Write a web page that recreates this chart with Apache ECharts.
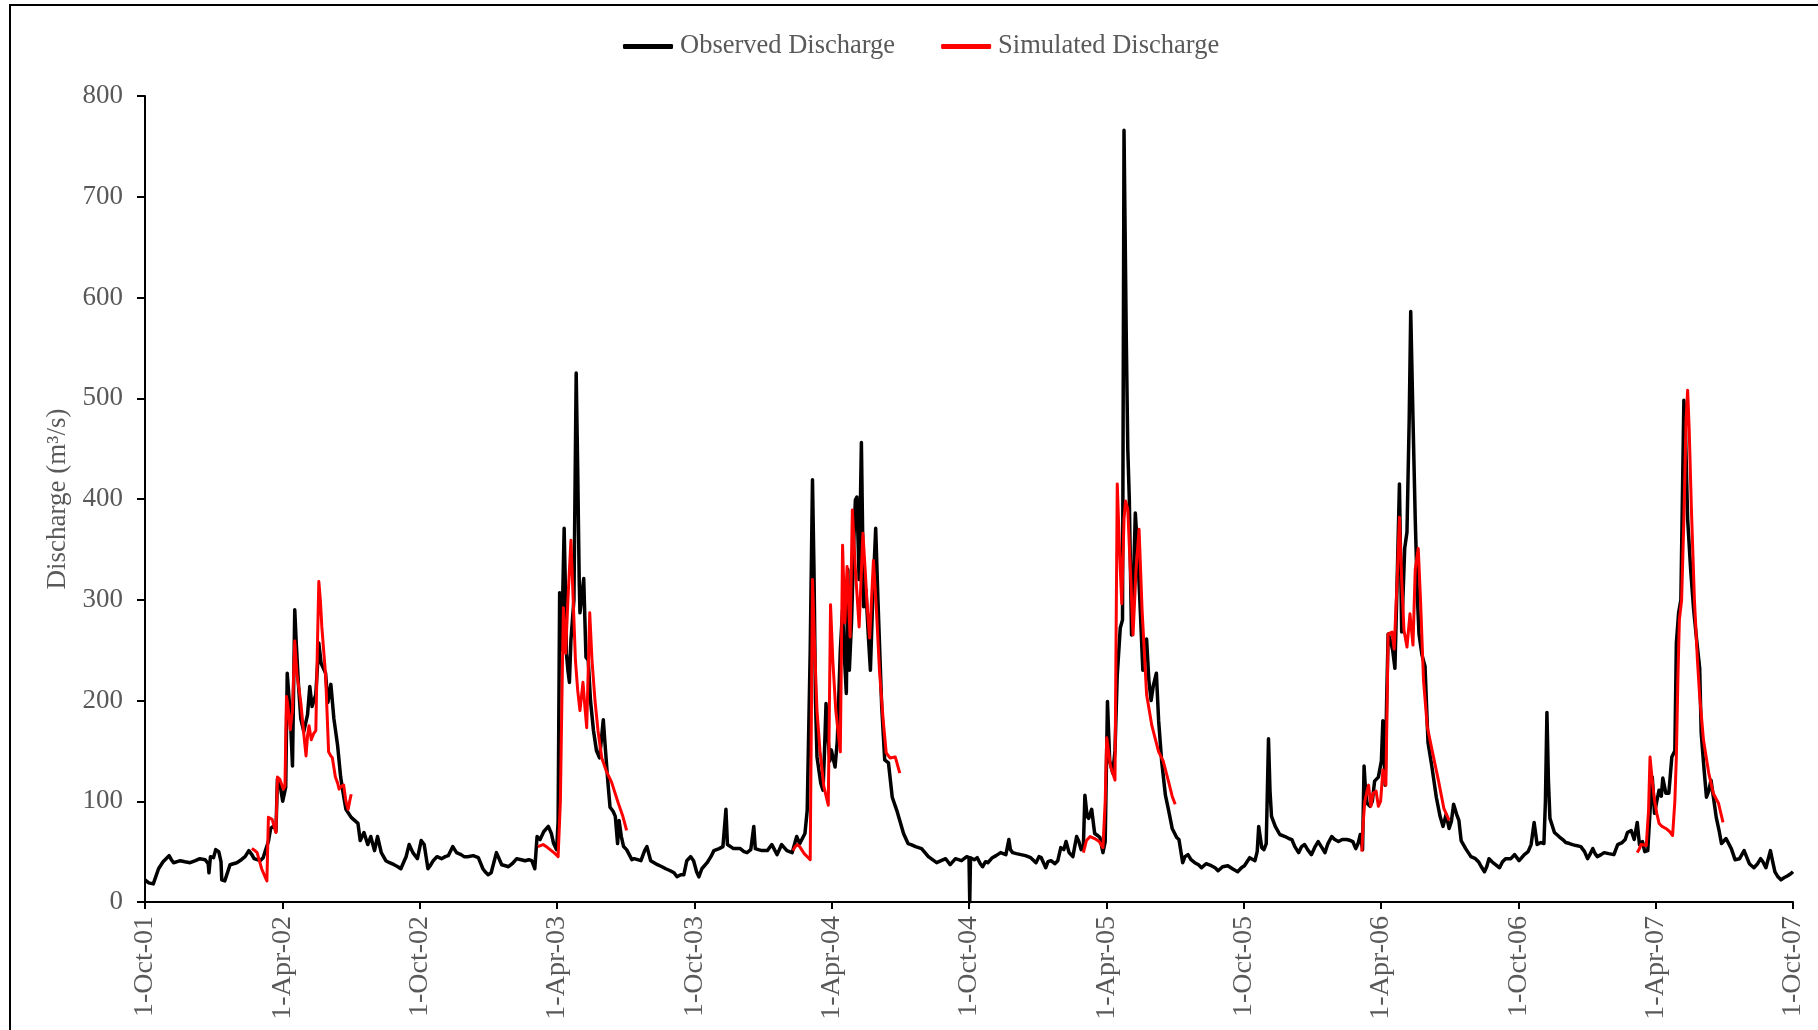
<!DOCTYPE html>
<html>
<head>
<meta charset="utf-8">
<script src="https://cdn.jsdelivr.net/npm/echarts@6/dist/echarts.min.js"></script>
<style>
  html, body { margin: 0; padding: 0; background: #ffffff; }
  #chart { width: 1818px; height: 1030px; }
</style>
</head>
<body>
<div id="chart"></div>
<script>
// Daily discharge, x = days since 1 Oct 2001, y = m³/s
const tickLabels = ['1-Oct-01', '1-Apr-02', '1-Oct-02', '1-Apr-03', '1-Oct-03', '1-Apr-04', '1-Oct-04',
  '1-Apr-05', '1-Oct-05', '1-Apr-06', '1-Oct-06', '1-Apr-07', '1-Oct-07'];
const halfYear = 182.5;

const observed = [
  [0,22],[5,19],[11,18],[18,33],[24,40],[32,46],[35,42],[38,39],[47,41],[53,40],[60,39],[67,41],[73,43],[80,42],
  [84,38],[85,29],[87,45],[91,44],[94,52],[98,50],[101,40],[102,22],[106,21],[110,30],[113,37],[122,39],[128,42],
  [133,45],[138,51],[142,47],[145,43],[153,41],[157,44],[160,51],[164,60],[167,73],[172,76],[174,70],[176,122],
  [180,114],[183,100],[187,114],[189,227],[193,186],[196,135],[199,290],[201,257],[204,215],[207,182],[211,169],
  [216,186],[219,214],[222,194],[227,206],[231,257],[234,237],[240,227],[243,198],[247,216],[251,182],[256,155],
  [260,124],[264,105],[267,92],[274,84],[280,80],[283,78],[286,61],[291,69],[296,57],[300,65],[305,51],[309,65],
  [314,49],[320,41],[325,39],[331,37],[336,35],[340,33],[344,40],[347,45],[351,57],[356,49],[362,43],[367,61],
  [371,57],[376,33],[379,36],[383,41],[388,45],[394,43],[399,45],[403,46],[409,55],[414,49],[420,47],[424,45],
  [429,45],[436,46],[443,44],[449,33],[452,30],[456,27],[460,29],[467,49],[470,44],[474,37],[479,36],[483,35],
  [488,38],[494,43],[500,42],[505,41],[510,42],[514,41],[518,33],[521,65],[525,62],[530,70],[536,75],[540,68],
  [543,58],[547,52],[549,80],[551,307],[553,250],[555,300],[557,371],[559,300],[560,247],[562,230],[564,218],
  [566,260],[568,280],[570,300],[573,525],[575,430],[577,320],[578,287],[580,300],[583,321],[586,243],[589,240],
  [592,200],[596,170],[600,150],[604,143],[607,165],[609,181],[612,150],[615,120],[618,94],[622,90],[625,85],
  [628,58],[630,81],[633,65],[636,55],[640,52],[647,42],[650,43],[659,41],[664,51],[667,55],[672,41],[681,37],
  [687,35],[692,33],[698,31],[703,29],[707,25],[712,27],[716,27],[720,41],[725,45],[729,41],[733,30],[736,25],
  [740,33],[747,39],[752,45],[756,51],[763,53],[768,55],[772,92],[774,57],[782,53],[791,53],[796,50],[800,49],
  [805,52],[807,51],[809,75],[811,53],[815,52],[820,51],[827,51],[833,57],[840,47],[846,57],[853,51],[860,49],
  [866,65],[870,58],[877,68],[880,91],[884,250],[887,419],[889,330],[891,200],[893,144],[898,118],[901,111],
  [903,150],[905,197],[907,170],[910,140],[912,151],[917,134],[920,160],[924,250],[927,290],[929,250],[932,207],
  [934,330],[936,230],[939,280],[942,360],[944,399],[946,402],[949,320],[952,456],[955,293],[958,310],[961,267],
  [964,230],[967,300],[971,371],[974,300],[979,194],[983,141],[988,138],[993,104],[999,91],[1003,81],[1008,68],
  [1014,58],[1018,57],[1024,55],[1032,53],[1041,45],[1052,39],[1058,41],[1064,43],[1070,37],[1077,43],[1085,41],
  [1092,45],[1095,44],[1096,0],[1097,44],[1102,42],[1106,44],[1110,38],[1113,35],[1117,40],[1120,39],[1126,44],
  [1131,46],[1137,49],[1144,47],[1148,62],[1150,52],[1153,49],[1158,48],[1164,47],[1170,46],[1177,44],[1184,39],
  [1188,45],[1191,44],[1197,34],[1200,40],[1204,41],[1209,38],[1213,41],[1217,54],[1221,52],[1224,60],[1228,49],
  [1233,45],[1238,65],[1241,60],[1244,52],[1247,55],[1249,106],[1252,85],[1254,83],[1258,92],[1262,68],[1266,66],
  [1269,64],[1273,49],[1276,60],[1279,199],[1282,140],[1286,128],[1289,150],[1292,225],[1296,272],[1299,280],
  [1301,766],[1304,560],[1306,450],[1308,401],[1311,265],[1314,330],[1316,386],[1319,350],[1322,300],[1326,230],
  [1329,250],[1331,261],[1334,220],[1337,200],[1340,215],[1344,227],[1347,180],[1351,140],[1356,106],[1360,92],
  [1365,73],[1371,64],[1374,62],[1379,39],[1382,45],[1386,47],[1390,42],[1395,39],[1400,37],[1404,34],[1410,38],
  [1417,36],[1422,34],[1426,31],[1432,35],[1439,36],[1445,33],[1452,30],[1457,34],[1461,36],[1468,44],[1475,41],
  [1478,50],[1480,75],[1484,54],[1487,52],[1490,58],[1493,162],[1495,110],[1497,85],[1502,75],[1508,67],[1515,65],
  [1520,63],[1524,62],[1528,55],[1533,49],[1537,55],[1541,57],[1545,52],[1550,47],[1555,55],[1559,60],[1564,54],
  [1568,49],[1572,58],[1577,65],[1581,62],[1586,60],[1591,62],[1597,62],[1602,61],[1605,60],[1609,53],[1612,58],
  [1615,67],[1618,52],[1620,135],[1622,110],[1624,98],[1628,95],[1631,100],[1634,120],[1639,124],[1643,140],
  [1645,180],[1648,116],[1650,200],[1652,266],[1655,260],[1658,250],[1661,232],[1664,320],[1667,415],[1670,268],
  [1674,351],[1677,367],[1680,480],[1682,586],[1685,480],[1688,380],[1691,300],[1693,266],[1697,245],[1701,234],
  [1705,158],[1710,135],[1716,104],[1721,85],[1725,75],[1729,87],[1733,73],[1736,80],[1739,97],[1743,87],
  [1746,81],[1749,61],[1755,53],[1762,45],[1768,43],[1772,40],[1775,36],[1780,30],[1783,35],[1786,43],[1790,40],
  [1793,38],[1800,34],[1804,40],[1808,43],[1815,43],[1820,47],[1823,44],[1826,41],[1833,47],[1838,50],[1842,57],
  [1846,79],[1850,57],[1855,59],[1859,58],[1861,100],[1863,188],[1865,120],[1867,83],[1873,69],[1879,65],[1884,62],
  [1888,59],[1893,58],[1897,57],[1902,56],[1908,55],[1913,50],[1917,43],[1920,47],[1924,53],[1927,48],[1930,45],
  [1935,47],[1939,49],[1945,48],[1952,47],[1957,57],[1963,59],[1967,62],[1970,69],[1975,71],[1979,62],[1983,79],
  [1986,57],[1990,60],[1993,50],[1997,51],[2000,90],[2003,124],[2006,88],[2009,100],[2012,111],[2015,105],
  [2017,123],[2021,108],[2025,108],[2029,144],[2033,150],[2035,257],[2038,287],[2041,300],[2043,400],[2045,498],
  [2047,470],[2050,380],[2054,330],[2058,290],[2062,260],[2066,232],[2068,168],[2072,130],[2075,104],[2078,110],
  [2081,121],[2085,100],[2088,84],[2092,70],[2095,58],[2101,63],[2108,53],[2113,42],[2119,43],[2125,51],[2132,38],
  [2138,34],[2143,38],[2147,43],[2150,40],[2154,34],[2160,51],[2163,40],[2166,30],[2170,25],[2174,22],[2178,24],
  [2183,26],[2187,28],[2190,30]
];

// Simulated discharge, one run per high-flow season
const sim2002 = [[142,53],[146,51],[149,49],[152,41],[155,33],[159,26],[162,21],[164,84],[166,85],[169,82],[172,74],
  [174,69],[176,124],[179,122],[181,122],[184,112],[186,115],[188,204],[190,194],[193,171],[196,190],[199,259],
  [202,225],[205,210],[207,198],[211,167],[214,145],[216,165],[218,175],[221,161],[224,167],[227,170],[229,250],
  [231,318],[233,300],[235,273],[240,225],[244,149],[247,145],[249,143],[253,124],[256,118],[258,112],[261,115],
  [264,116],[267,100],[270,92],[272,100],[274,107]];
const sim2003 = [[522,55],[529,57],[535,54],[540,51],[545,48],[549,45],[552,100],[554,200],[556,292],[559,247],
  [562,300],[566,359],[569,300],[572,240],[575,210],[578,190],[582,218],[585,190],[587,173],[589,230],[591,287],
  [594,240],[598,200],[602,170],[607,143],[613,130],[620,119],[629,98],[635,85],[640,71]];
const sim2004 = [[861,51],[864,55],[867,57],[870,55],[876,48],[884,42],[887,320],[890,250],[893,190],[897,150],
  [902,115],[908,96],[911,295],[914,240],[918,190],[924,149],[927,354],[930,277],[933,333],[937,263],[940,389],
  [944,330],[949,273],[954,366],[957,330],[960,290],[963,262],[968,339],[972,290],[976,230],[981,180],[985,148],
  [990,143],[997,144],[1003,128]];
const sim2005 = [[1247,49],[1251,61],[1256,65],[1262,63],[1268,60],[1273,54],[1276,100],[1278,163],[1283,135],
  [1289,121],[1292,415],[1295,350],[1298,296],[1301,380],[1303,398],[1306,390],[1310,320],[1313,265],[1317,330],
  [1321,370],[1325,290],[1331,206],[1338,175],[1347,149],[1353,140],[1360,120],[1365,105],[1369,97]];
const sim2006 = [[1617,50],[1619,80],[1621,100],[1624,110],[1626,116],[1629,95],[1632,108],[1636,110],[1639,95],
  [1642,100],[1645,131],[1649,116],[1652,266],[1657,268],[1660,251],[1664,320],[1667,382],[1670,320],[1673,270],
  [1677,253],[1681,286],[1685,255],[1688,330],[1692,351],[1695,300],[1699,220],[1704,174],[1710,152],[1719,120],
  [1726,93],[1733,81]];
const sim2007 = [[1983,49],[1986,53],[1988,57],[1995,56],[1998,90],[2000,144],[2003,120],[2006,101],[2009,88],
  [2012,78],[2016,75],[2021,73],[2026,70],[2030,66],[2033,100],[2035,144],[2037,220],[2039,280],[2042,300],
  [2045,380],[2048,480],[2050,508],[2052,470],[2055,390],[2059,300],[2063,240],[2066,204],[2071,161],[2078,128],
  [2084,108],[2091,98],[2097,79]];

const simulatedRuns = [sim2002, sim2003, sim2004, sim2005, sim2006, sim2007];
// Join the seasonal runs with empty points so the line breaks between them
const simulated = [];
simulatedRuns.forEach(function (run, i) {
  if (i > 0) simulated.push([run[0][0] - 1, '-']);
  run.forEach(function (p) { simulated.push(p); });
});

const FONT = "'Liberation Serif', 'Times New Roman', serif";
const GREY = '#595959';

const chart = echarts.init(document.getElementById('chart'), null, { renderer: 'canvas' });
chart.setOption({
  animation: false,
  backgroundColor: '#ffffff',
  textStyle: { fontFamily: FONT },
  graphic: [
    { type: 'rect', shape: { x: 9, y: 4, width: 1809, height: 2 }, style: { fill: '#000' }, silent: true },
    { type: 'rect', shape: { x: 9, y: 4, width: 2, height: 1026 }, style: { fill: '#000' }, silent: true }
  ],
  legend: {
    left: 618,
    top: 28,
    itemWidth: 50,
    itemHeight: 5,
    itemGap: 46,
    icon: 'roundRect',
    textStyle: { fontFamily: FONT, fontSize: 26.5, color: GREY, lineHeight: 27, padding: [0, 0, 0, 2] },
    data: ['Observed Discharge', 'Simulated Discharge']
  },
  grid: { left: 145, top: 96, width: 1648, height: 806, containLabel: false, outerBoundsMode: 'none' },
  xAxis: {
    type: 'value',
    min: 0,
    max: halfYear * 12,
    interval: halfYear,
    splitLine: { show: false },
    axisLine: { show: true, lineStyle: { color: '#000', width: 2 } },
    axisTick: { show: true, length: 7, lineStyle: { color: '#000', width: 2 } },
    axisLabel: {
      rotate: 90,
      margin: 14,
      fontFamily: FONT,
      fontSize: 28,
      color: GREY,
      showMinLabel: true,
      showMaxLabel: true,
      formatter: function (v) { return tickLabels[Math.round(v / halfYear)]; }
    }
  },
  yAxis: {
    type: 'value',
    min: 0,
    max: 800,
    interval: 100,
    name: 'Discharge (m³/s)',
    nameLocation: 'middle',
    nameGap: 73,
    nameRotate: 90,
    nameTextStyle: { fontFamily: FONT, fontSize: 27, color: GREY },
    splitLine: { show: false },
    axisLine: { show: true, lineStyle: { color: '#000', width: 2 } },
    axisTick: { show: true, length: 8, lineStyle: { color: '#000', width: 2 } },
    axisLabel: { margin: 22, fontFamily: FONT, fontSize: 27, color: GREY }
  },
  series: [
    {
      name: 'Observed Discharge',
      type: 'line',
      data: observed,
      showSymbol: false,
      symbol: 'none',
      color: '#000000',
      lineStyle: { color: '#000000', width: 3.5, join: 'round' },
      z: 2
    },
    {
      name: 'Simulated Discharge',
      type: 'line',
      data: simulated,
      connectNulls: false,
      showSymbol: false,
      symbol: 'none',
      color: '#ff0000',
      lineStyle: { color: '#ff0000', width: 3, join: 'round' },
      z: 3
    }
  ]
});
</script>
</body>
</html>
